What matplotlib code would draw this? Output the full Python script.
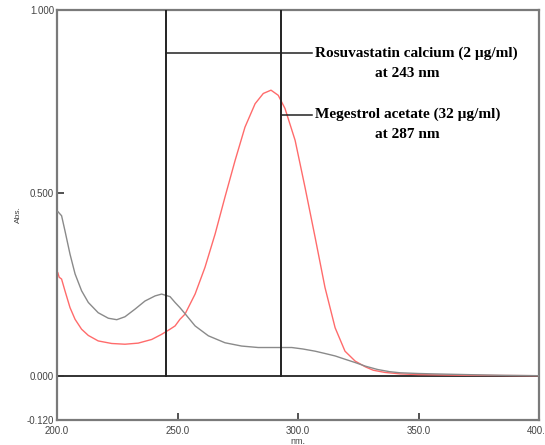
import matplotlib
matplotlib.use("Agg")
import matplotlib.pyplot as plt

# Absorption spectra (wavelength in nm, absorbance)
rosu_wl = [200.0, 200.3, 200.8, 201.9, 203.3, 205.4, 207.5, 210.2, 213.0, 217.1,
           221.3, 224.8, 228.2, 232.4, 236.5, 240.7, 243.4, 246.9, 249.0, 251.0,
           253.3, 257.3, 262.8, 269.7, 276.6, 283.5, 290.0, 297.4, 302.0, 307.1,
           311.0, 315.4, 319.5, 323.7, 328.0, 333.0, 338.0, 342.3, 350.0, 356.0,
           370.0, 385.0, 400.0]
rosu_abs = [0.447, 0.450, 0.446, 0.438, 0.397, 0.333, 0.279, 0.233, 0.201, 0.173,
            0.158, 0.154, 0.162, 0.183, 0.205, 0.219, 0.224, 0.217, 0.201, 0.187,
            0.169, 0.137, 0.110, 0.091, 0.082, 0.078, 0.078, 0.078, 0.074, 0.068,
            0.062, 0.055, 0.046, 0.037, 0.027, 0.018, 0.012, 0.009, 0.007, 0.006,
            0.004, 0.002, 0.001]

mege_wl = [200.0, 200.3, 200.9, 201.9, 203.3, 205.4, 207.5, 210.2, 213.0, 217.1,
           222.7, 228.2, 233.7, 239.3, 243.4, 246.9, 249.0, 251.0, 253.1, 257.3,
           261.4, 265.6, 269.7, 273.9, 278.0, 282.2, 285.6, 288.8, 291.8, 294.6,
           298.8, 302.9, 307.1, 311.2, 315.4, 319.5, 323.7, 328.0, 331.2, 336.0,
           342.3, 350.0, 370.0, 400.0]
mege_abs = [0.280, 0.283, 0.270, 0.265, 0.233, 0.187, 0.155, 0.128, 0.111, 0.096,
            0.089, 0.087, 0.090, 0.100, 0.114, 0.128, 0.137, 0.155, 0.169, 0.224,
            0.297, 0.388, 0.489, 0.589, 0.680, 0.744, 0.772, 0.781, 0.767, 0.731,
            0.644, 0.516, 0.379, 0.242, 0.132, 0.068, 0.041, 0.025, 0.016, 0.010,
            0.006, 0.004, 0.002, 0.001]

# Callout markers: wavelength of vertical line, absorbance of leader line
callout_wl = [245.2, 292.8]
callout_y = [0.882, 0.714]
callout_text = [("Rosuvastatin calcium (2 µg/ml)", "at 243 nm"),
                ("Megestrol acetate (32 µg/ml)", "at 287 nm")]

x_ticks = [200, 250, 300, 350, 400]
y_ticks = [-0.120, 0.0, 0.5, 1.0]

fig = plt.figure(figsize=(5.45, 4.45), dpi=100)
ax = fig.add_axes([57 / 545, 1 - 420 / 445, (539 - 57) / 545, (420 - 10) / 445])
ax.set_xlim(200, 400)
ax.set_ylim(-0.120, 1.0)

spine_col = "#7a7a7a"
for s in ax.spines.values():
    s.set_color(spine_col)
    s.set_linewidth(1.6)

ax.set_xticks(x_ticks)
ax.set_xticklabels([f"{v:.1f}" for v in x_ticks])
ax.set_yticks(y_ticks)
ax.set_yticklabels([f"{v:.3f}" for v in y_ticks])
ax.tick_params(direction="in", length=5, width=1.2, color="#333333",
               labelsize=7, labelcolor="#444444", pad=2)
ax.tick_params(axis="x", pad=4)
for lab in ax.get_xticklabels() + ax.get_yticklabels():
    lab.set_family("Liberation Sans")

# zero baseline
ax.axhline(0.0, color="#222222", lw=1.3, zorder=1)

# spectra
ax.plot(rosu_wl, rosu_abs, color="#8a8a8a", lw=1.0, zorder=3)
ax.plot(mege_wl, mege_abs, color="#ff6b6b", lw=1.0, zorder=2)

# vertical markers and leader lines with labels
text_x = 316
for wl, yv, (l1, l2) in zip(callout_wl, callout_y, callout_text):
    ax.plot([wl, wl], [0.0, 1.0], color="#222222", lw=1.4, zorder=4)
    xe = 200 + (text_x - 4 - 57) / 2.41
    ax.plot([wl, xe], [yv, yv], color="#222222", lw=1.1, zorder=4)
    ax.text(xe + 1.2, yv, l1, family="Liberation Serif", fontweight="bold",
            fontsize=11, va="center", ha="left")
    ax.text(xe + 1.2 + 38.2, yv - 0.055, l2, family="Liberation Serif",
            fontweight="bold", fontsize=11, va="center", ha="center")

fig.text(18 / 545, 1 - 215 / 445, "Abs.", rotation=90, fontsize=6,
         color="#444444", family="Liberation Sans", ha="center", va="center")
fig.text(298 / 545, 1 - 441 / 445, "nm.", fontsize=6.5, color="#444444",
         family="Liberation Sans", ha="center", va="center")

fig.savefig("out.png", dpi=100)
